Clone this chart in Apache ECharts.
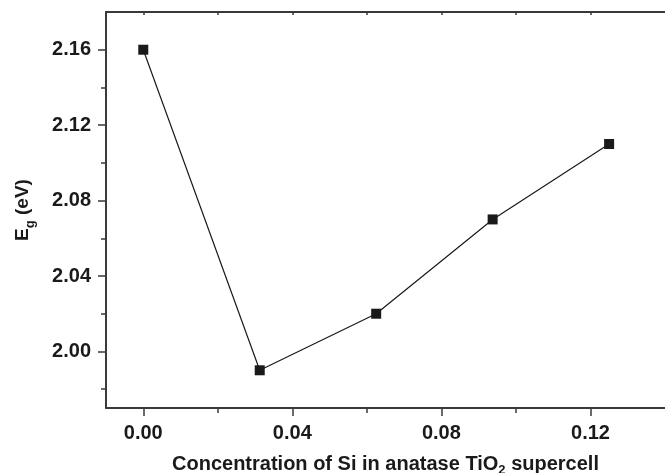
<!DOCTYPE html>
<html>
<head>
<meta charset="utf-8">
<script src="https://cdn.jsdelivr.net/npm/echarts@6/dist/echarts.min.js"></script>
<style>html,body{margin:0;padding:0;background:#fff}#c{width:665px;height:473px}</style>
</head>
<body>
<div id="c"></div>
<script>
const concentrations = [0, 0.03125, 0.0625, 0.09375, 0.125];
const bandGaps = [2.16, 1.99, 2.02, 2.07, 2.11];
const xTicks = ['0.00', '0.04', '0.08', '0.12'];
const xMinorTicks = ['0.02', '0.06', '0.10'];
const yTicks = ['2.00', '2.04', '2.08', '2.12', '2.16'];
const yMinorTicks = ['1.98', '2.02', '2.06', '2.10', '2.14'];
// tick grid of the axes, in 0.01 steps from axis min to axis max
const xGrid = ['-0.01','0.00','0.01','0.02','0.03','0.04','0.05','0.06','0.07','0.08','0.09','0.10','0.11','0.12','0.13','0.14'];
const yGrid = ['1.97','1.98','1.99','2.00','2.01','2.02','2.03','2.04','2.05','2.06','2.07','2.08','2.09','2.10','2.11','2.12','2.13','2.14','2.15','2.16','2.17','2.18'];

const chart = echarts.init(document.getElementById('c'));
const font = 'Liberation Sans, Arial, sans-serif';
const axisColor = '#3a3a3a';
const txt = '#1a1a1a';
const tickLine = {color: axisColor, width: 1.5};
const gridRect = {left: 106, right: 0, top: 12, bottom: 65, containLabel: false, outerBoundsMode: 'none'};
const helper = (gi, data, pos, list, len, inside) => ({
  type: 'category', gridIndex: gi, data: data, boundaryGap: false, position: pos,
  axisLine: {show: false, onZero: false}, splitLine: {show: false}, axisLabel: {show: false},
  axisTick: {show: true, inside: !!inside, length: len, lineStyle: tickLine,
    interval: (idx, val) => list.indexOf(val) >= 0}
});
chart.setOption({
  animation: false,
  backgroundColor: '#fff',
  grid: [gridRect, gridRect, gridRect],
  xAxis: [{
    type: 'value', gridIndex: 0, min: -0.01, max: 0.14, position: 'bottom',
    axisLine: {show: true, onZero: false, lineStyle: {color: axisColor, width: 2}},
    splitLine: {show: false},
    axisTick: {show: false},
    axisLabel: {
      customValues: xTicks.map(Number),
      formatter: v => v.toFixed(2),
      color: txt, fontSize: 20, fontWeight: 'bold', fontFamily: font, margin: 15
    },
    name: '{a|Concentration of Si in anatase TiO}{s|2}{a| supercell}',
    nameLocation: 'middle', nameGap: 44,
    nameTextStyle: {
      rich: {
        a: {fontSize: 20, fontWeight: 'bold', fontFamily: font, color: txt, verticalAlign: 'bottom', lineHeight: 22},
        s: {fontSize: 13, fontWeight: 'bold', fontFamily: font, color: txt, verticalAlign: 'bottom', lineHeight: 14, padding: [0,0,-3,0]}
      }
    }
  },
  {
    ...helper(0, xGrid, 'top', xTicks.concat(xMinorTicks), 3, true),
    axisLine: {show: true, onZero: false, lineStyle: {color: axisColor, width: 2}}
  },
  helper(1, xGrid, 'bottom', xTicks, 8),
  helper(2, xGrid, 'bottom', xTicks.concat(xMinorTicks), 5)
  ],
  yAxis: [{
    type: 'value', gridIndex: 0, min: 1.97, max: 2.18, position: 'left',
    axisLine: {show: true, onZero: false, lineStyle: {color: axisColor, width: 2}},
    splitLine: {show: false},
    axisTick: {show: false},
    axisLabel: {
      customValues: yTicks.map(Number),
      formatter: v => v.toFixed(2),
      color: txt, fontSize: 20, fontWeight: 'bold', fontFamily: font, margin: 15
    },
    name: '{a|E}{s|g}{a| (eV)}',
    nameLocation: 'middle', nameGap: 74, nameRotate: 90,
    nameTextStyle: {
      rich: {
        a: {fontSize: 19, fontWeight: 'bold', fontFamily: font, color: txt, verticalAlign: 'bottom', lineHeight: 22},
        s: {fontSize: 13, fontWeight: 'bold', fontFamily: font, color: txt, verticalAlign: 'bottom', lineHeight: 14, padding: [0,0,-5,0]}
      }
    }
  },
  helper(1, yGrid, 'left', yTicks, 8),
  helper(2, yGrid, 'left', yTicks.concat(yMinorTicks), 5)
  ],
  series: [{
    type: 'line', xAxisIndex: 0, yAxisIndex: 0,
    data: concentrations.map((x, i) => [x, bandGaps[i]]),
    symbol: 'rect', symbolSize: 10,
    itemStyle: {color: '#1a1a1a'},
    lineStyle: {color: '#1a1a1a', width: 1.2}
  }]
});
</script>
</body>
</html>
